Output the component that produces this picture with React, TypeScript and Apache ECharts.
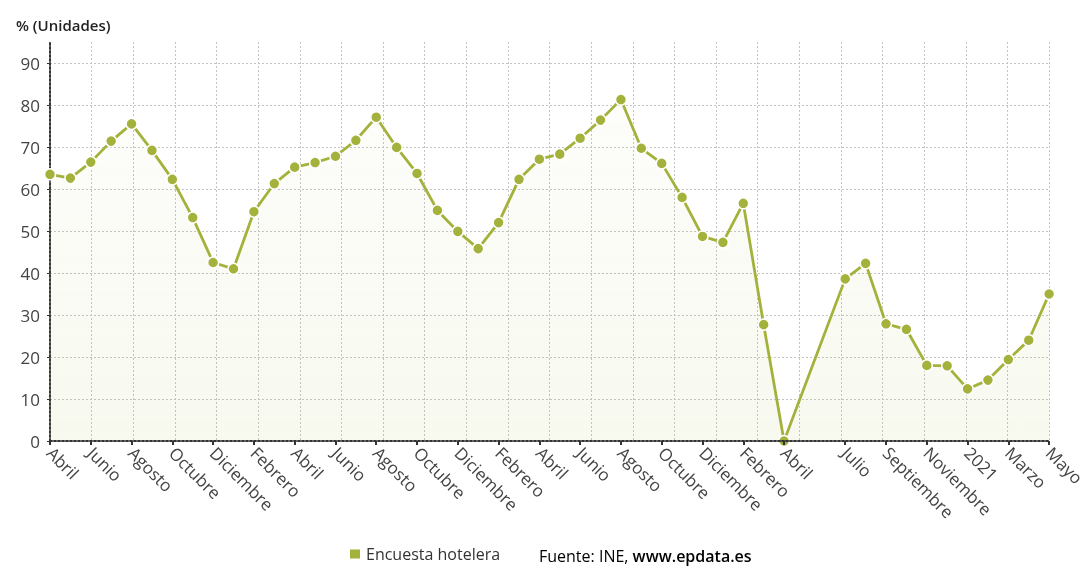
import React, { useEffect, useRef } from "react";
import * as echarts from "echarts";

const months: string[] = [
  "Abril", "Mayo", "Junio", "Julio", "Agosto", "Septiembre", "Octubre", "Noviembre", "Diciembre",
  "2018", "Febrero", "Marzo", "Abril", "Mayo", "Junio", "Julio", "Agosto", "Septiembre", "Octubre", "Noviembre", "Diciembre",
  "2019", "Febrero", "Marzo", "Abril", "Mayo", "Junio", "Julio", "Agosto", "Septiembre", "Octubre", "Noviembre", "Diciembre",
  "2020", "Febrero", "Marzo", "Abril", "Mayo", "Junio", "Julio", "Agosto", "Septiembre", "Octubre", "Noviembre", "Diciembre",
  "2021", "Febrero", "Marzo", "Abril", "Mayo",
];

const occupancy: (number | null)[] = [
  63.5, 62.6, 66.4, 71.4, 75.5, 69.2, 62.3, 53.2, 42.5,
  41.0, 54.6, 61.3, 65.2, 66.3, 67.8, 71.6, 77.1, 69.9, 63.7, 54.9, 49.9,
  45.8, 52.0, 62.3, 67.1, 68.3, 72.1, 76.4, 81.3, 69.7, 66.1, 58.0, 48.7,
  47.3, 56.6, 27.7, 0, null, null, 38.6, 42.3, 27.9, 26.6, 18.0, 17.9,
  12.4, 14.5, 19.4, 24.0, 35.0,
];

const labelIndices: number[] = [0, 2, 4, 6, 8, 10, 12, 14, 16, 18, 20, 22, 24, 26, 28, 30, 32, 34, 36, 39, 41, 43, 45, 47, 49];
const yTickValues: number[] = [0, 10, 20, 30, 40, 50, 60, 70, 80, 90];

const seriesName = "Encuesta hotelera";
const unitTitle = "% (Unidades)";
const sourcePrefix = "Fuente: INE, ";
const sourceSite = "www.epdata.es";

const GREEN = "#a4b23c";
const FONT = "'Open Sans', sans-serif";
const GRID_LINE = { color: "#c4c4c4", type: [2, 2], width: 1 };

export default function App() {
  const ref = useRef<HTMLDivElement>(null);
  useEffect(() => {
    if (!ref.current) return;
    const chart = echarts.init(ref.current, undefined, { renderer: "svg" });
    const showIdx = (i: number) => labelIndices.includes(i);
    chart.setOption({
      animation: false,
      textStyle: { fontFamily: FONT },
      title: {
        text: unitTitle,
        left: 11,
        top: 12,
        textStyle: { fontFamily: FONT, fontSize: 15, fontWeight: 600, color: "#222" },
      },
      legend: {
        data: [seriesName],
        left: 346,
        top: 543,
        icon: "rect",
        itemWidth: 12,
        itemHeight: 11,
        itemGap: 6,
        padding: 2,
        textStyle: { fontFamily: FONT, fontSize: 16, color: "#333", lineHeight: 18 },
      },
      graphic: [
        {
          type: "text",
          left: 539,
          top: 548,
          style: {
            text: `{a|${sourcePrefix}}{b|${sourceSite}}`,
            rich: {
              a: { fontFamily: FONT, fontSize: 16, color: "#333" },
              b: { fontFamily: FONT, fontSize: 16, color: "#222", fontWeight: 600 },
            },
          },
        },
      ],
      grid: { left: 50, right: 34, top: 42, bottom: 126, containLabel: false },
      xAxis: [
        {
          type: "category",
          data: months,
          boundaryGap: false,
          axisLine: { show: true, lineStyle: { color: "#333", width: 2, type: "dotted" } },
          axisTick: { show: true, interval: (i: number) => showIdx(i), length: 4, lineStyle: { color: "#333", width: 2 } },
          axisLabel: {
            interval: (i: number) => showIdx(i),
            rotate: -45,
            margin: 9,
            fontFamily: FONT,
            fontSize: 17,
            color: "#444",
          },
          splitLine: { show: false },
          z: 4,
        },
        {
          type: "value",
          min: 0,
          max: 24,
          interval: 1,
          position: "top",
          axisLine: { show: false },
          axisTick: { show: false },
          axisLabel: { show: false },
          splitLine: { show: true, lineStyle: GRID_LINE },
        },
      ],
      yAxis: {
        type: "value",
        min: 0,
        max: 95,
        interval: 10,
        axisLine: { show: true, lineStyle: { color: "#333", width: 2, type: "dotted" } },
        axisTick: { show: true, length: 3, customValues: yTickValues, lineStyle: { color: "#333" } },
        axisLabel: {
          customValues: yTickValues,
          margin: 10,
          fontFamily: FONT,
          fontSize: 17,
          color: "#444",
        },
        splitLine: { show: true, lineStyle: GRID_LINE },
      },
      series: [
        {
          name: seriesName,
          type: "line",
          data: occupancy,
          xAxisIndex: 0,
          connectNulls: true,
          symbol: "circle",
          symbolSize: 11,
          itemStyle: { color: GREEN, borderColor: "#fff", borderWidth: 1.5 },
          lineStyle: { color: GREEN, width: 2.8 },
          areaStyle: {
            color: new echarts.graphic.LinearGradient(0, 0, 0, 1, [
              { offset: 0, color: "rgba(164,178,60,0.03)" },
              { offset: 1, color: "rgba(164,178,60,0.12)" },
            ]),
          },
          emphasis: { disabled: true },
          z: 3,
        },
      ],
    });
    return () => chart.dispose();
  }, []);
  return <div ref={ref} style={{ position: "fixed", left: 0, top: 0, width: 1088, height: 567 }} />;
}
